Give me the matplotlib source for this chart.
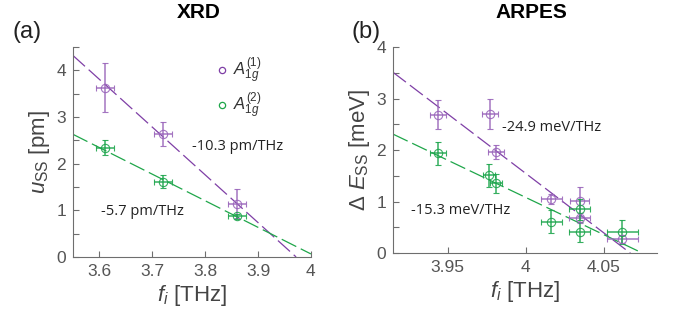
import matplotlib
matplotlib.use("Agg")
import matplotlib.pyplot as plt
from matplotlib.lines import Line2D
from matplotlib.ticker import MultipleLocator
import numpy as np

plt.rcParams['font.family'] = ['Liberation Sans', 'DejaVu Sans']
plt.rcParams['mathtext.fontset'] = 'custom'
plt.rcParams['mathtext.rm'] = 'Liberation Sans'
plt.rcParams['mathtext.it'] = 'Liberation Sans:italic'
plt.rcParams['mathtext.bf'] = 'Liberation Sans:bold'

PURPLE = '#7f3fa6'
PURPLE_E = '#9a66bb'
GREEN = '#1fa64a'
GREEN_E = '#1fa64e'
GRAY = '#6e6e6e'

# ---------------- data: XRD ----------------
xrd_f1 = [3.61, 3.72, 3.86]
xrd_u1 = [3.63, 2.63, 1.14]
xrd_u1_err = [0.52, 0.26, 0.31]
xrd_f1_err = [0.017, 0.017, 0.017]
xrd_f2 = [3.61, 3.72, 3.86]
xrd_u2 = [2.34, 1.61, 0.87]
xrd_u2_err = [0.16, 0.14, 0.05]
xrd_f2_err = [0.017, 0.017, 0.017]
# fit lines (end points)
xrd_fit1_x = [3.55, 3.972]
xrd_fit1_y = [4.32, 0.0]
xrd_fit2_x = [3.55, 4.0]
xrd_fit2_y = [2.63, 0.065]
xrd_slope_labels = ['-10.3 pm/THz', '-5.7 pm/THz']

# ---------------- data: ARPES ----------------
arp_f1 = [3.944, 3.977, 3.981, 4.0165, 4.0345, 4.0345, 4.0618]
arp_e1 = [2.69, 2.70, 1.96, 1.045, 1.01, 0.68, 0.28]
arp_e1_err = [0.29, 0.30, 0.13, 0.10, 0.28, 0.10, 0.08]
arp_f1_err = [0.005, 0.005, 0.005, 0.007, 0.006, 0.0065, 0.010]
arp_f2 = [3.944, 3.9765, 3.981, 4.0165, 4.0345, 4.0345, 4.0618]
arp_e2 = [1.935, 1.51, 1.355, 0.61, 0.85, 0.41, 0.41]
arp_e2_err = [0.23, 0.22, 0.19, 0.22, 0.21, 0.19, 0.24]
arp_f2_err = [0.005, 0.004, 0.004, 0.0066, 0.0065, 0.0065, 0.010]
arp_fit1_x = [3.915, 4.067]
arp_fit1_y = [3.51, 0.0]
arp_fit2_x = [3.915, 4.072]
arp_fit2_y = [2.31, 0.04]
arp_slope_labels = ['-24.9 meV/THz', '-15.3 meV/THz']

fig = plt.figure(figsize=(6.75, 3.2), dpi=100)
axa = fig.add_axes([0.108, 0.197, 0.3526, 0.656])
axb = fig.add_axes([0.5822, 0.209, 0.391, 0.644])


def style(ax):
    for s in ['top', 'right']:
        ax.spines[s].set_visible(False)
    for s in ['left', 'bottom']:
        ax.spines[s].set_color(GRAY)
        ax.spines[s].set_linewidth(0.8)
    ax.tick_params(direction='in', length=4, width=0.8, color=GRAY,
                   labelcolor='#555555', labelsize=12.5, pad=5)
    ax.tick_params(which='minor', direction='in', length=4, width=0.8, color=GRAY)
    ax.yaxis.set_minor_locator(MultipleLocator(0.5))


def draw(ax, x, y, xe, ye, col, ecol):
    ax.errorbar(x, y, xerr=xe, yerr=ye, fmt='o', ms=6, mfc='none', mec=ecol,
                mew=0.8, ecolor=ecol, elinewidth=1.1, capsize=2.2, capthick=1.1,
                alpha=0.9, zorder=3)


for ax in (axa, axb):
    style(ax)

# Panel a
axa.plot(xrd_fit1_x, xrd_fit1_y, color=PURPLE, lw=0.9, dashes=(13, 4), zorder=2)
axa.plot(xrd_fit2_x, xrd_fit2_y, color=GREEN, lw=0.9, dashes=(13, 4), zorder=2)
draw(axa, xrd_f1, xrd_u1, xrd_f1_err, xrd_u1_err, PURPLE, PURPLE_E)
draw(axa, xrd_f2, xrd_u2, xrd_f2_err, xrd_u2_err, GREEN, GREEN_E)
axa.set_xlim(3.55, 4.0)
axa.set_ylim(0, 4.5)
axa.set_xticks([3.6, 3.7, 3.8, 3.9, 4.0])
axa.set_xticklabels(['3.6', '3.7', '3.8', '3.9', '4'])
axa.set_yticks([0, 1, 2, 3, 4])
axa.set_xlabel(r'$f_i$ [THz]', fontsize=16, color='#444444', labelpad=3)
axa.set_ylabel(r'$u_{\mathrm{SS}}$ [pm]', fontsize=16, color='#444444', labelpad=3)
axa.text(3.776, 2.37, xrd_slope_labels[0], fontsize=10.5, family='Open Sans',
         va='center', ha='left', color='#222222')
axa.text(3.603, 0.97, xrd_slope_labels[1], fontsize=10.5, family='Open Sans',
         va='center', ha='left', color='#222222')
handles = [Line2D([], [], ls='none', marker='o', ms=4.5, mfc='none', mec=PURPLE, mew=0.9),
           Line2D([], [], ls='none', marker='o', ms=4.5, mfc='none', mec=GREEN, mew=0.9)]
leg = axa.legend(handles, [r'$A_{1g}^{(1)}$', r'$A_{1g}^{(2)}$'], loc='upper left',
                 bbox_to_anchor=(0.52, 1.03), frameon=False, fontsize=12,
                 handletextpad=0.1, labelspacing=0.3, handlelength=1.2)
for t in leg.get_texts():
    t.set_color('#333333')

# Panel b
axb.plot(arp_fit1_x, arp_fit1_y, color=PURPLE, lw=0.9, dashes=(13, 4), zorder=2)
axb.plot(arp_fit2_x, arp_fit2_y, color=GREEN, lw=0.9, dashes=(13, 4), zorder=2)
draw(axb, arp_f1, arp_e1, arp_f1_err, arp_e1_err, PURPLE, PURPLE_E)
draw(axb, arp_f2, arp_e2, arp_f2_err, arp_e2_err, GREEN, GREEN_E)
axb.set_xlim(3.915, 4.084)
axb.set_ylim(0, 4)
axb.set_xticks([3.95, 4.0, 4.05])
axb.set_xticklabels(['3.95', '4', '4.05'])
axb.set_yticks([0, 1, 2, 3, 4])
axb.set_xlabel(r'$f_i$ [THz]', fontsize=16, color='#444444', labelpad=3)
axb.set_ylabel(r'$\Delta\ E_{\mathrm{SS}}$ [meV]', fontsize=16, color='#444444', labelpad=3)
axb.text(3.9849, 2.43, arp_slope_labels[0], fontsize=10.5, family='Open Sans',
         va='center', ha='left', color='#222222')
axb.text(3.9267, 0.82, arp_slope_labels[1], fontsize=10.5, family='Open Sans',
         va='center', ha='left', color='#222222')

fig.text(0.295, 0.9625, 'XRD', fontsize=15, fontweight='bold', ha='center', va='center')
fig.text(0.788, 0.9625, 'ARPES', fontsize=15, fontweight='bold', ha='center', va='center')
fig.text(0.019, 0.935, '(a)', fontsize=17, color='#222222', va='top')
fig.text(0.521, 0.935, '(b)', fontsize=17, color='#222222', va='top')

fig.savefig('out.png', dpi=100)
